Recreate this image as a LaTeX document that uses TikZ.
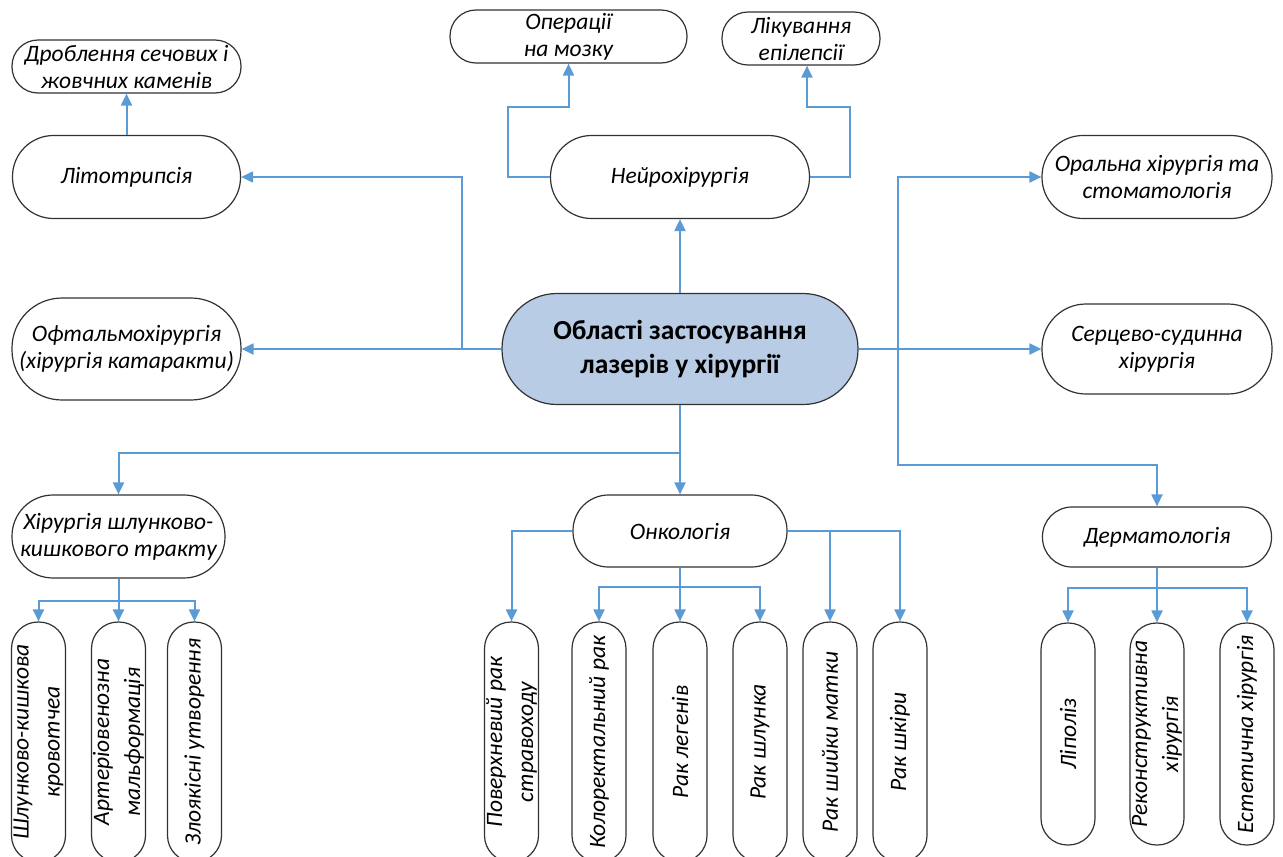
\documentclass[tikz,border=0pt]{standalone}
\usepackage{fontspec}
\setmainfont{Carlito}
\usetikzlibrary{arrows.meta}
\definecolor{lineblue}{RGB}{91,155,213}
\definecolor{centralfill}{RGB}{184,204,230}
\definecolor{outline}{RGB}{50,50,50}
\tikzset{
  pill/.style n args={3}{draw=outline, line width=1.2pt, fill=white, rectangle,
    rounded corners=#3, minimum width=#1, minimum height=#2, inner sep=0pt,
    align=center, font=\fontsize{23.5}{27}\selectfont\itshape},
  vpill/.style n args={2}{draw=outline, line width=1.2pt, fill=white, rectangle,
    rounded corners=26.5pt, minimum width=#1, minimum height=54pt, inner sep=0pt,
    rotate=90, align=center, font=\fontsize{23.5}{31}\selectfont\itshape},
  arr/.style={draw=lineblue, line width=2pt, -{Triangle[length=12pt,width=11pt]}},
  ln/.style={draw=lineblue, line width=2pt}
}
\begin{document}
\begin{tikzpicture}[x=1pt,y=1pt]
\useasboundingbox (0,0) rectangle (1283,-857);
% top / side nodes
\node[pill={229pt}{53pt}{26pt}] (drob) at (126.5,-66.5) {Дроблення сечових і\\жовчних каменів};
\node[pill={228pt}{83pt}{41pt}] (lito) at (126.5,-177) {Літотрипсія};
\node[pill={237pt}{53pt}{26pt}] (oper) at (568.5,-36.5) {Операції\\на мозку};
\node[pill={158pt}{53pt}{26pt}] (likuv) at (801,-38.5) {Лікування\\епілепсії};
\node[pill={259pt}{83pt}{41pt}] (neuro) at (680,-177) {Нейрохірургія};
\node[pill={230pt}{83pt}{41pt}] (oral) at (1157,-177) {Оральна хірургія та\\стоматологія};
\node[pill={356pt}{111pt}{55pt}, fill=centralfill, font=\fontsize{27.5}{34}\selectfont\bfseries] (central) at (680,-349) {Області застосування\\лазерів у хірургії};
\node[pill={229pt}{102pt}{50pt}] (oftal) at (126.5,-349) {Офтальмохірургія\\(хірургія катаракти)};
\node[pill={230pt}{90pt}{44pt}] (serc) at (1157,-349) {Серцево-судинна\\хірургія};
\node[pill={213pt}{83pt}{41pt}] (gi) at (118.5,-536.5) {Хірургія шлунково-\\кишкового тракту};
\node[pill={214pt}{72pt}{35.5pt}] (onko) at (680,-531) {Онкологія};
\node[pill={229pt}{60pt}{29.5pt}] (derm) at (1157,-537) {Дерматологія};
% vertical pills
\node[vpill={240pt}{}] (gi1) at (38.5,-742) {Шлунково-кишкова\\кровотчеа};
\node[vpill={240pt}{}] (gi2) at (118.5,-742) {Артеріовенозна\\мальформація};
\node[vpill={240pt}{}] (gi3) at (194.5,-742) {Злоякісні утворення};
\node[vpill={240pt}{}] (on1) at (511.5,-742) {Поверхневий рак\\стравоходу};
\node[vpill={240pt}{}] (on2) at (599,-742) {Колоректальний рак};
\node[vpill={240pt}{}] (on3) at (680,-742) {Рак легенів};
\node[vpill={240pt}{}] (on4) at (760,-742) {Рак шлунка};
\node[vpill={240pt}{}] (on5) at (830,-742) {Рак шийки матки};
\node[vpill={240pt}{}] (on6) at (900,-742) {Рак шкіри};
\node[vpill={222pt}{}] (de1) at (1068,-734) {Ліполіз};
\node[vpill={222pt}{}] (de2) at (1157,-734) {Реконструктивна\\хірургія};
\node[vpill={222pt}{}] (de3) at (1247,-734) {Естетична хірургія};
% junction coordinates
\coordinate (jl) at (462,-349);
\coordinate (jr) at (898,-349);
\coordinate (jd) at (898,-465);
\coordinate (jb) at (680,-453);
\coordinate (nl) at (508,-107);
\coordinate (nr) at (850,-107);
\coordinate (gib) at (118.5,-601);
\coordinate (ob) at (680,-587);
\coordinate (db) at (1157,-588);
% connectors
\draw[arr] (lito.north) -- (drob.south);
\draw[arr] (central.west) -- (oftal.east);
\draw[arr] (jl) |- (lito.east);
\draw[arr] (central.north) -- (neuro.south);
\draw[arr] (neuro.west) -| (nl) -| (oper.south);
\draw[arr] (neuro.east) -| (nr) -| ([xshift=6pt]likuv.south);
\draw[arr] (central.east) -- (serc.west);
\draw[arr] (jr) |- (oral.west);
\draw[arr] (jr) -- (jd) -| (derm.north);
\draw[arr] (central.south) -- (onko.north);
\draw[arr] (jb) -| (gi.north);
\draw[ln] (gi.south) -- (gib);
\draw[arr] (gib) -| (gi1.east);
\draw[arr] (gib) -- (gi2.east);
\draw[arr] (gib) -| (gi3.east);
\draw[arr] (onko.west) -| (on1.east);
\draw[arr] (onko.east) -| (on6.east);
\draw[arr] (onko.east -| on5.east) -- (on5.east);
\draw[ln] (onko.south) -- (ob);
\draw[arr] (ob) -| (on2.east);
\draw[arr] (ob) -- (on3.east);
\draw[arr] (ob) -| (on4.east);
\draw[ln] (derm.south) -- (db);
\draw[arr] (db) -| (de1.east);
\draw[arr] (db) -- (de2.east);
\draw[arr] (db) -| (de3.east);
\end{tikzpicture}
\end{document}
